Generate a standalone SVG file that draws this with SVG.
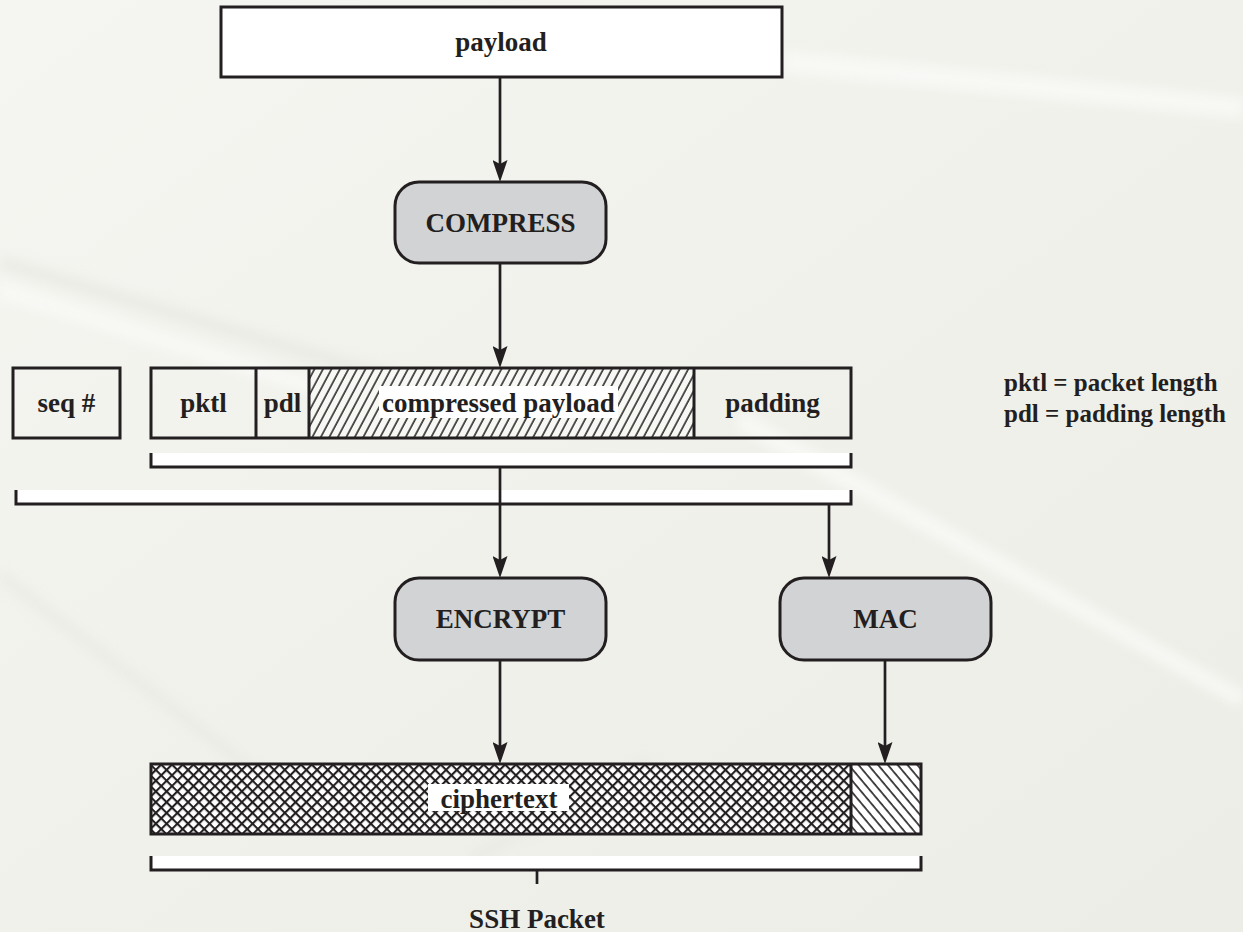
<svg xmlns="http://www.w3.org/2000/svg" width="1243" height="932" viewBox="0 0 1243 932">
  <defs>
    <linearGradient id="bg" x1="0" y1="0" x2="1" y2="1">
      <stop offset="0" stop-color="#f5f5f1"/>
      <stop offset="0.5" stop-color="#f1f1ec"/>
      <stop offset="1" stop-color="#ededE7"/>
    </linearGradient>
    <filter id="soft" x="-20%" y="-50%" width="140%" height="200%">
      <feGaussianBlur stdDeviation="6"/>
    </filter>
    <!-- forward-slash hatching for the compressed payload -->
    <pattern id="hatchFwd" width="7.5" height="7.5" patternUnits="userSpaceOnUse" patternTransform="rotate(28)">
      <rect width="7.5" height="7.5" fill="#f7f7f4"/>
      <line x1="1" y1="0" x2="1" y2="7.5" stroke="#231f20" stroke-width="1.5"/>
    </pattern>
    <!-- back-slash hatching for the MAC field -->
    <pattern id="hatchBack" width="7.5" height="7.5" patternUnits="userSpaceOnUse" patternTransform="rotate(-40)">
      <rect width="7.5" height="7.5" fill="#ffffff"/>
      <line x1="1" y1="0" x2="1" y2="7.5" stroke="#231f20" stroke-width="1.6"/>
    </pattern>
    <!-- cross hatching for the ciphertext -->
    <pattern id="cross" width="7.6" height="7.6" patternUnits="userSpaceOnUse" patternTransform="rotate(45)">
      <rect width="7.6" height="7.6" fill="#ffffff"/>
      <line x1="1" y1="0" x2="1" y2="7.6" stroke="#231f20" stroke-width="2.2"/>
      <line x1="0" y1="1" x2="7.6" y2="1" stroke="#231f20" stroke-width="2.2"/>
    </pattern>
    <marker id="arrow" viewBox="0 0 22 15" refX="14" refY="7.5" markerWidth="22" markerHeight="15" orient="auto" markerUnits="userSpaceOnUse">
      <path d="M0,0 L22,7.5 L0,15 L4,7.5 Z" fill="#231f20"/>
    </marker>
  </defs>
  <style>
    .lbl { font-family: "Liberation Serif", "Times New Roman", serif; font-weight: bold; font-size: 27px; fill: #231f20; text-anchor: middle; }
    .leg { font-family: "Liberation Serif", "Times New Roman", serif; font-weight: bold; font-size: 25px; fill: #231f20; }
    .box { fill: none; stroke: #231f20; stroke-width: 3; }
    .proc { fill: #d1d3d4; stroke: #231f20; stroke-width: 3; }
    .wire { fill: none; stroke: #231f20; stroke-width: 2.7; }
    .brace { fill: #ffffff; stroke: none; }
    .tag { fill: #ffffff; }
  </style>

  <!-- background -->
  <rect width="1243" height="932" fill="url(#bg)"/>
  <g filter="url(#soft)" opacity="0.5">
    <path d="M785,62 L1243,108" stroke="#ffffff" stroke-width="18" fill="none"/>
    <path d="M0,262 L400,380" stroke="#e4e4de" stroke-width="14" fill="none"/>
    <path d="M0,290 L420,420" stroke="#ffffff" stroke-width="12" fill="none"/>
    <path d="M0,575 L330,830" stroke="#e6e6e0" stroke-width="12" fill="none"/>
    <path d="M740,420 L1243,700" stroke="#ffffff" stroke-width="16" fill="none"/>
    <path d="M470,860 L650,760" stroke="#e6e6e0" stroke-width="12" fill="none"/>
  </g>

  <!-- payload -->
  <g id="payload">
    <rect x="221" y="7" width="561" height="70" fill="#ffffff" stroke="#231f20" stroke-width="3"/>
    <text class="lbl" x="501" y="51">payload</text>
  </g>

  <!-- COMPRESS -->
  <g id="compress">
    <rect class="proc" x="395" y="182" width="211" height="81" rx="24"/>
    <text class="lbl" x="500.5" y="232">COMPRESS</text>
  </g>

  <!-- sequence number -->
  <g id="seq">
    <rect class="box" x="13" y="368" width="107" height="70"/>
    <text class="lbl" x="66.5" y="412">seq #</text>
  </g>

  <!-- packet fields -->
  <g id="packet">
    <rect x="309" y="368" width="385" height="70" fill="url(#hatchFwd)"/>
    <rect class="box" x="151" y="368" width="700" height="70"/>
    <line class="box" x1="256" y1="368" x2="256" y2="438"/>
    <line class="box" x1="309" y1="368" x2="309" y2="438"/>
    <line class="box" x1="694" y1="368" x2="694" y2="438"/>
    <text class="lbl" x="203.5" y="412">pktl</text>
    <text class="lbl" x="282.5" y="412">pdl</text>
    <rect class="tag" x="379" y="386" width="239" height="32"/>
    <text class="lbl" x="498.5" y="412">compressed payload</text>
    <text class="lbl" x="772.5" y="412">padding</text>
  </g>

  <!-- legend -->
  <g id="legend">
    <text class="leg" x="1004" y="391">pktl = packet length</text>
    <text class="leg" x="1004" y="422">pdl = padding length</text>
  </g>

  <!-- ENCRYPT -->
  <g id="encrypt">
    <rect class="proc" x="395" y="578" width="211" height="82" rx="24"/>
    <text class="lbl" x="500.5" y="628">ENCRYPT</text>
  </g>

  <!-- MAC -->
  <g id="mac">
    <rect class="proc" x="780" y="578" width="211" height="82" rx="24"/>
    <text class="lbl" x="885.5" y="628">MAC</text>
  </g>

  <!-- SSH packet -->
  <g id="ssh-packet">
    <rect x="151" y="764" width="700" height="70" fill="url(#cross)"/>
    <rect x="851" y="764" width="70" height="70" fill="url(#hatchBack)"/>
    <rect class="box" x="151" y="764" width="770" height="70"/>
    <line class="box" x1="851" y1="764" x2="851" y2="834"/>
    <rect class="tag" x="428" y="784" width="141" height="27"/>
    <text class="lbl" x="499" y="808">ciphertext</text>
  </g>

  <g id="ssh-label">
    <text class="lbl" x="537" y="928">SSH Packet</text>
  </g>

  <!-- connectors and braces -->
  <g id="connectors">
    <rect class="brace" x="151" y="453" width="700" height="14"/>
    <path class="box" d="M151,453 V467 H851 V453"/>
    <rect class="brace" x="16" y="490" width="835" height="14"/>
    <path class="box" d="M16,490 V504 H851 V490"/>
    <rect class="brace" x="151" y="856" width="770" height="14"/>
    <path class="box" d="M151,856 V870 H921 V856"/>
    <line class="wire" x1="537" y1="870" x2="537" y2="884"/>

    <line class="wire" x1="500" y1="77" x2="500" y2="174" marker-end="url(#arrow)"/>
    <line class="wire" x1="500" y1="263" x2="500" y2="360" marker-end="url(#arrow)"/>
    <line class="wire" x1="500" y1="467" x2="500" y2="570" marker-end="url(#arrow)"/>
    <line class="wire" x1="829" y1="504" x2="829" y2="570" marker-end="url(#arrow)"/>
    <line class="wire" x1="500" y1="660" x2="500" y2="756" marker-end="url(#arrow)"/>
    <line class="wire" x1="885" y1="660" x2="885" y2="756" marker-end="url(#arrow)"/>
  </g>
</svg>
